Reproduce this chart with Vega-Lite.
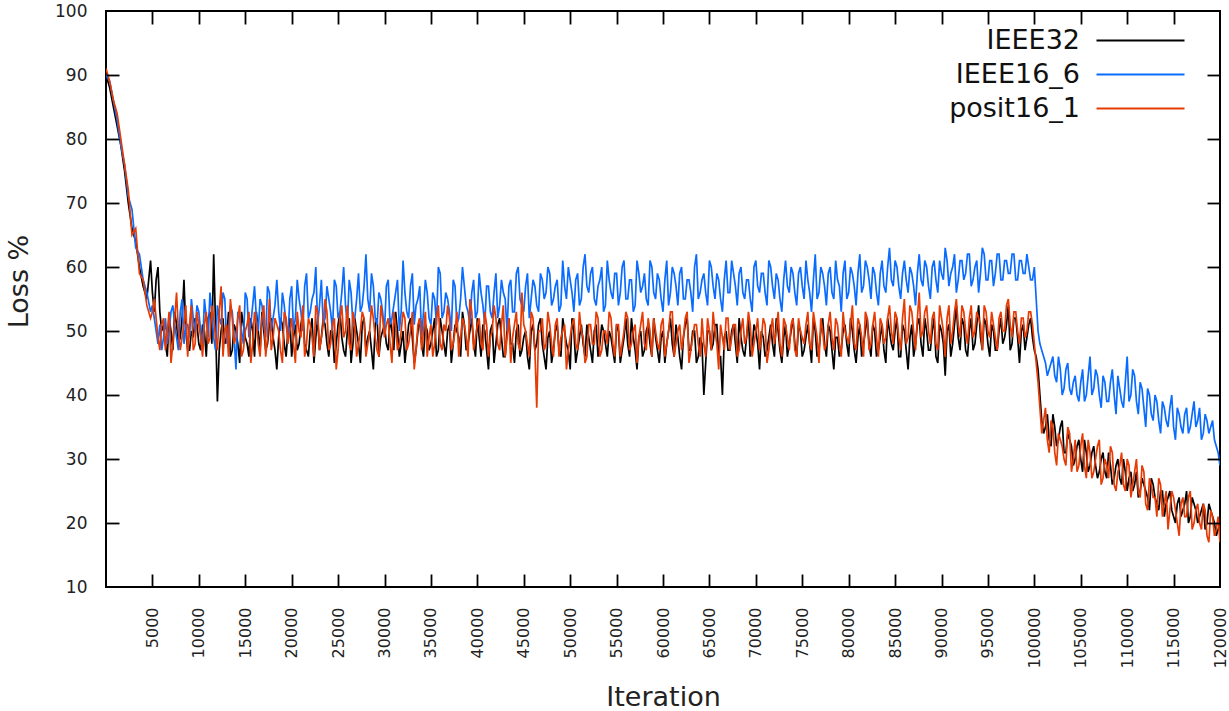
{
  "$schema": "https://vega.github.io/schema/vega-lite/v6.json",
  "width": 1114,
  "height": 576,
  "autosize": {"type": "none"},
  "padding": {"left": 106, "top": 11, "right": 9, "bottom": 124},
  "background": "white",
  "config": {
    "view": {"stroke": "#000000", "strokeWidth": 2},
    "font": "DejaVu Sans",
    "axis": {"grid": false, "domain": false, "tickColor": "#111", "tickWidth": 1.8}
  },
  "layer": [
    {
      "data": {"values": [
    {"it":0,"IEEE32":90,"IEEE16_6":90,"posit16_1":91},
    {"it":400,"IEEE32":88,"IEEE16_6":89,"posit16_1":89},
    {"it":800,"IEEE32":85,"IEEE16_6":86,"posit16_1":86},
    {"it":1200,"IEEE32":82,"IEEE16_6":83,"posit16_1":84},
    {"it":1600,"IEEE32":79,"IEEE16_6":79,"posit16_1":80},
    {"it":2000,"IEEE32":75,"IEEE16_6":76,"posit16_1":76},
    {"it":2400,"IEEE32":70,"IEEE16_6":71,"posit16_1":72},
    {"it":2800,"IEEE32":66,"IEEE16_6":69,"posit16_1":65},
    {"it":3200,"IEEE32":64,"IEEE16_6":63,"posit16_1":66},
    {"it":3600,"IEEE32":60,"IEEE16_6":62,"posit16_1":59},
    {"it":4000,"IEEE32":57,"IEEE16_6":58,"posit16_1":58},
    {"it":4400,"IEEE32":55,"IEEE16_6":56,"posit16_1":54},
    {"it":4800,"IEEE32":61,"IEEE16_6":53,"posit16_1":52},
    {"it":5200,"IEEE32":53,"IEEE16_6":52,"posit16_1":55},
    {"it":5600,"IEEE32":60,"IEEE16_6":48,"posit16_1":49},
    {"it":6000,"IEEE32":50,"IEEE16_6":47,"posit16_1":51},
    {"it":6400,"IEEE32":48,"IEEE16_6":52,"posit16_1":47},
    {"it":6800,"IEEE32":52,"IEEE16_6":50,"posit16_1":53},
    {"it":7200,"IEEE32":47,"IEEE16_6":54,"posit16_1":48},
    {"it":7600,"IEEE32":51,"IEEE16_6":49,"posit16_1":56},
    {"it":8000,"IEEE32":49,"IEEE16_6":53,"posit16_1":47},
    {"it":8400,"IEEE32":58,"IEEE16_6":48,"posit16_1":51},
    {"it":8800,"IEEE32":47,"IEEE16_6":51,"posit16_1":46},
    {"it":9200,"IEEE32":50,"IEEE16_6":55,"posit16_1":54},
    {"it":9600,"IEEE32":52,"IEEE16_6":50,"posit16_1":48},
    {"it":10000,"IEEE32":48,"IEEE16_6":53,"posit16_1":51},
    {"it":10400,"IEEE32":51,"IEEE16_6":47,"posit16_1":46},
    {"it":10800,"IEEE32":46,"IEEE16_6":52,"posit16_1":53},
    {"it":11200,"IEEE32":53,"IEEE16_6":56,"posit16_1":49},
    {"it":11600,"IEEE32":62,"IEEE16_6":49,"posit16_1":52},
    {"it":12000,"IEEE32":39,"IEEE16_6":54,"posit16_1":47},
    {"it":12400,"IEEE32":50,"IEEE16_6":51,"posit16_1":57},
    {"it":12800,"IEEE32":48,"IEEE16_6":55,"posit16_1":50},
    {"it":13200,"IEEE32":53,"IEEE16_6":50,"posit16_1":46},
    {"it":13600,"IEEE32":47,"IEEE16_6":53,"posit16_1":52},
    {"it":14000,"IEEE32":50,"IEEE16_6":44,"posit16_1":49},
    {"it":14400,"IEEE32":45,"IEEE16_6":52,"posit16_1":54},
    {"it":14800,"IEEE32":51,"IEEE16_6":48,"posit16_1":47},
    {"it":15200,"IEEE32":48,"IEEE16_6":55,"posit16_1":51},
    {"it":15600,"IEEE32":52,"IEEE16_6":51,"posit16_1":45},
    {"it":16000,"IEEE32":46,"IEEE16_6":57,"posit16_1":53},
    {"it":16400,"IEEE32":50,"IEEE16_6":50,"posit16_1":48},
    {"it":16800,"IEEE32":53,"IEEE16_6":54,"posit16_1":52},
    {"it":17200,"IEEE32":47,"IEEE16_6":49,"posit16_1":46},
    {"it":17600,"IEEE32":51,"IEEE16_6":56,"posit16_1":55},
    {"it":18000,"IEEE32":49,"IEEE16_6":52,"posit16_1":49},
    {"it":18400,"IEEE32":44,"IEEE16_6":58,"posit16_1":51},
    {"it":18800,"IEEE32":52,"IEEE16_6":50,"posit16_1":47},
    {"it":19200,"IEEE32":48,"IEEE16_6":54,"posit16_1":53},
    {"it":19600,"IEEE32":50,"IEEE16_6":49,"posit16_1":48},
    {"it":20000,"IEEE32":46,"IEEE16_6":57,"posit16_1":52},
    {"it":20400,"IEEE32":51,"IEEE16_6":52,"posit16_1":45},
    {"it":20800,"IEEE32":48,"IEEE16_6":55,"posit16_1":50},
    {"it":21200,"IEEE32":53,"IEEE16_6":50,"posit16_1":54},
    {"it":21600,"IEEE32":47,"IEEE16_6":59,"posit16_1":48},
    {"it":22000,"IEEE32":50,"IEEE16_6":53,"posit16_1":51},
    {"it":22400,"IEEE32":45,"IEEE16_6":56,"posit16_1":46},
    {"it":22800,"IEEE32":52,"IEEE16_6":51,"posit16_1":53},
    {"it":23200,"IEEE32":49,"IEEE16_6":58,"posit16_1":49},
    {"it":23600,"IEEE32":51,"IEEE16_6":52,"posit16_1":55},
    {"it":24000,"IEEE32":46,"IEEE16_6":55,"posit16_1":47},
    {"it":24400,"IEEE32":50,"IEEE16_6":50,"posit16_1":51},
    {"it":24800,"IEEE32":48,"IEEE16_6":57,"posit16_1":44},
    {"it":25200,"IEEE32":53,"IEEE16_6":53,"posit16_1":52},
    {"it":25600,"IEEE32":47,"IEEE16_6":60,"posit16_1":49},
    {"it":26000,"IEEE32":50,"IEEE16_6":51,"posit16_1":54},
    {"it":26400,"IEEE32":45,"IEEE16_6":56,"posit16_1":47},
    {"it":26800,"IEEE32":52,"IEEE16_6":52,"posit16_1":51},
    {"it":27200,"IEEE32":48,"IEEE16_6":59,"posit16_1":48},
    {"it":27600,"IEEE32":51,"IEEE16_6":54,"posit16_1":53},
    {"it":28000,"IEEE32":47,"IEEE16_6":62,"posit16_1":46},
    {"it":28400,"IEEE32":50,"IEEE16_6":53,"posit16_1":50},
    {"it":28800,"IEEE32":44,"IEEE16_6":57,"posit16_1":52},
    {"it":29200,"IEEE32":52,"IEEE16_6":51,"posit16_1":47},
    {"it":29600,"IEEE32":49,"IEEE16_6":55,"posit16_1":54},
    {"it":30000,"IEEE32":51,"IEEE16_6":50,"posit16_1":49},
    {"it":30400,"IEEE32":47,"IEEE16_6":58,"posit16_1":52},
    {"it":30800,"IEEE32":50,"IEEE16_6":52,"posit16_1":45},
    {"it":31200,"IEEE32":53,"IEEE16_6":56,"posit16_1":51},
    {"it":31600,"IEEE32":46,"IEEE16_6":50,"posit16_1":48},
    {"it":32000,"IEEE32":50,"IEEE16_6":61,"posit16_1":53},
    {"it":32400,"IEEE32":48,"IEEE16_6":53,"posit16_1":47},
    {"it":32800,"IEEE32":52,"IEEE16_6":57,"posit16_1":50},
    {"it":33200,"IEEE32":45,"IEEE16_6":51,"posit16_1":44},
    {"it":33600,"IEEE32":50,"IEEE16_6":55,"posit16_1":51},
    {"it":34000,"IEEE32":48,"IEEE16_6":49,"posit16_1":47},
    {"it":34400,"IEEE32":51,"IEEE16_6":58,"posit16_1":53},
    {"it":34800,"IEEE32":47,"IEEE16_6":52,"posit16_1":49},
    {"it":35200,"IEEE32":50,"IEEE16_6":56,"posit16_1":46},
    {"it":35600,"IEEE32":46,"IEEE16_6":51,"posit16_1":52},
    {"it":36000,"IEEE32":52,"IEEE16_6":59,"posit16_1":48},
    {"it":36400,"IEEE32":48,"IEEE16_6":53,"posit16_1":51},
    {"it":36800,"IEEE32":50,"IEEE16_6":55,"posit16_1":54},
    {"it":37200,"IEEE32":45,"IEEE16_6":50,"posit16_1":47},
    {"it":37600,"IEEE32":51,"IEEE16_6":57,"posit16_1":50},
    {"it":38000,"IEEE32":49,"IEEE16_6":52,"posit16_1":46},
    {"it":38400,"IEEE32":53,"IEEE16_6":60,"posit16_1":52},
    {"it":38800,"IEEE32":47,"IEEE16_6":54,"posit16_1":49},
    {"it":39200,"IEEE32":50,"IEEE16_6":51,"posit16_1":55},
    {"it":39600,"IEEE32":48,"IEEE16_6":58,"posit16_1":47},
    {"it":40000,"IEEE32":52,"IEEE16_6":53,"posit16_1":51},
    {"it":40400,"IEEE32":46,"IEEE16_6":56,"posit16_1":48},
    {"it":40800,"IEEE32":50,"IEEE16_6":51,"posit16_1":53},
    {"it":41200,"IEEE32":44,"IEEE16_6":57,"posit16_1":46},
    {"it":41600,"IEEE32":51,"IEEE16_6":52,"posit16_1":50},
    {"it":42000,"IEEE32":48,"IEEE16_6":59,"posit16_1":52},
    {"it":42400,"IEEE32":52,"IEEE16_6":54,"posit16_1":47},
    {"it":42800,"IEEE32":46,"IEEE16_6":56,"posit16_1":54},
    {"it":43200,"IEEE32":50,"IEEE16_6":50,"posit16_1":49},
    {"it":43600,"IEEE32":48,"IEEE16_6":58,"posit16_1":45},
    {"it":44000,"IEEE32":45,"IEEE16_6":53,"posit16_1":51},
    {"it":44400,"IEEE32":51,"IEEE16_6":60,"posit16_1":48},
    {"it":44800,"IEEE32":47,"IEEE16_6":54,"posit16_1":56},
    {"it":45200,"IEEE32":50,"IEEE16_6":57,"posit16_1":50},
    {"it":45600,"IEEE32":44,"IEEE16_6":52,"posit16_1":46},
    {"it":46000,"IEEE32":51,"IEEE16_6":58,"posit16_1":52},
    {"it":46400,"IEEE32":48,"IEEE16_6":54,"posit16_1":38},
    {"it":46800,"IEEE32":52,"IEEE16_6":59,"posit16_1":50},
    {"it":47200,"IEEE32":46,"IEEE16_6":55,"posit16_1":47},
    {"it":47600,"IEEE32":49,"IEEE16_6":60,"posit16_1":53},
    {"it":48000,"IEEE32":45,"IEEE16_6":54,"posit16_1":48},
    {"it":48400,"IEEE32":50,"IEEE16_6":57,"posit16_1":51},
    {"it":48800,"IEEE32":47,"IEEE16_6":53,"posit16_1":46},
    {"it":49200,"IEEE32":52,"IEEE16_6":61,"posit16_1":50},
    {"it":49600,"IEEE32":48,"IEEE16_6":55,"posit16_1":44},
    {"it":50000,"IEEE32":44,"IEEE16_6":58,"posit16_1":49},
    {"it":50400,"IEEE32":50,"IEEE16_6":53,"posit16_1":52},
    {"it":50800,"IEEE32":47,"IEEE16_6":59,"posit16_1":47},
    {"it":51200,"IEEE32":51,"IEEE16_6":55,"posit16_1":50},
    {"it":51600,"IEEE32":46,"IEEE16_6":62,"posit16_1":45},
    {"it":52000,"IEEE32":49,"IEEE16_6":56,"posit16_1":51},
    {"it":52400,"IEEE32":45,"IEEE16_6":60,"posit16_1":48},
    {"it":52800,"IEEE32":51,"IEEE16_6":54,"posit16_1":53},
    {"it":53200,"IEEE32":48,"IEEE16_6":58,"posit16_1":46},
    {"it":53600,"IEEE32":50,"IEEE16_6":53,"posit16_1":50},
    {"it":54000,"IEEE32":46,"IEEE16_6":61,"posit16_1":48},
    {"it":54400,"IEEE32":49,"IEEE16_6":56,"posit16_1":52},
    {"it":54800,"IEEE32":45,"IEEE16_6":59,"posit16_1":46},
    {"it":55200,"IEEE32":50,"IEEE16_6":54,"posit16_1":51},
    {"it":55600,"IEEE32":47,"IEEE16_6":60,"posit16_1":48},
    {"it":56000,"IEEE32":52,"IEEE16_6":55,"posit16_1":53},
    {"it":56400,"IEEE32":46,"IEEE16_6":58,"posit16_1":47},
    {"it":56800,"IEEE32":49,"IEEE16_6":53,"posit16_1":50},
    {"it":57200,"IEEE32":44,"IEEE16_6":61,"posit16_1":45},
    {"it":57600,"IEEE32":50,"IEEE16_6":56,"posit16_1":51},
    {"it":58000,"IEEE32":47,"IEEE16_6":59,"posit16_1":48},
    {"it":58400,"IEEE32":51,"IEEE16_6":54,"posit16_1":52},
    {"it":58800,"IEEE32":46,"IEEE16_6":60,"posit16_1":46},
    {"it":59200,"IEEE32":49,"IEEE16_6":55,"posit16_1":50},
    {"it":59600,"IEEE32":45,"IEEE16_6":58,"posit16_1":47},
    {"it":60000,"IEEE32":50,"IEEE16_6":53,"posit16_1":52},
    {"it":60400,"IEEE32":48,"IEEE16_6":61,"posit16_1":48},
    {"it":60800,"IEEE32":52,"IEEE16_6":56,"posit16_1":53},
    {"it":61200,"IEEE32":46,"IEEE16_6":59,"posit16_1":46},
    {"it":61600,"IEEE32":49,"IEEE16_6":54,"posit16_1":50},
    {"it":62000,"IEEE32":44,"IEEE16_6":60,"posit16_1":47},
    {"it":62400,"IEEE32":51,"IEEE16_6":55,"posit16_1":52},
    {"it":62800,"IEEE32":47,"IEEE16_6":58,"posit16_1":45},
    {"it":63200,"IEEE32":50,"IEEE16_6":53,"posit16_1":49},
    {"it":63600,"IEEE32":45,"IEEE16_6":62,"posit16_1":51},
    {"it":64000,"IEEE32":49,"IEEE16_6":56,"posit16_1":46},
    {"it":64400,"IEEE32":40,"IEEE16_6":59,"posit16_1":48},
    {"it":64800,"IEEE32":50,"IEEE16_6":54,"posit16_1":52},
    {"it":65200,"IEEE32":47,"IEEE16_6":60,"posit16_1":47},
    {"it":65600,"IEEE32":51,"IEEE16_6":55,"posit16_1":50},
    {"it":66000,"IEEE32":46,"IEEE16_6":58,"posit16_1":44},
    {"it":66400,"IEEE32":40,"IEEE16_6":53,"posit16_1":49},
    {"it":66800,"IEEE32":50,"IEEE16_6":61,"posit16_1":52},
    {"it":67200,"IEEE32":47,"IEEE16_6":56,"posit16_1":47},
    {"it":67600,"IEEE32":51,"IEEE16_6":59,"posit16_1":51},
    {"it":68000,"IEEE32":45,"IEEE16_6":54,"posit16_1":46},
    {"it":68400,"IEEE32":49,"IEEE16_6":60,"posit16_1":50},
    {"it":68800,"IEEE32":46,"IEEE16_6":55,"posit16_1":48},
    {"it":69200,"IEEE32":52,"IEEE16_6":58,"posit16_1":53},
    {"it":69600,"IEEE32":47,"IEEE16_6":53,"posit16_1":46},
    {"it":70000,"IEEE32":50,"IEEE16_6":61,"posit16_1":50},
    {"it":70400,"IEEE32":44,"IEEE16_6":56,"posit16_1":47},
    {"it":70800,"IEEE32":49,"IEEE16_6":59,"posit16_1":52},
    {"it":71200,"IEEE32":47,"IEEE16_6":54,"posit16_1":45},
    {"it":71600,"IEEE32":51,"IEEE16_6":60,"posit16_1":50},
    {"it":72000,"IEEE32":46,"IEEE16_6":55,"posit16_1":48},
    {"it":72400,"IEEE32":50,"IEEE16_6":58,"posit16_1":53},
    {"it":72800,"IEEE32":45,"IEEE16_6":53,"posit16_1":46},
    {"it":73200,"IEEE32":51,"IEEE16_6":61,"posit16_1":51},
    {"it":73600,"IEEE32":48,"IEEE16_6":56,"posit16_1":47},
    {"it":74000,"IEEE32":52,"IEEE16_6":59,"posit16_1":52},
    {"it":74400,"IEEE32":46,"IEEE16_6":54,"posit16_1":46},
    {"it":74800,"IEEE32":50,"IEEE16_6":60,"posit16_1":50},
    {"it":75200,"IEEE32":47,"IEEE16_6":55,"posit16_1":48},
    {"it":75600,"IEEE32":51,"IEEE16_6":58,"posit16_1":53},
    {"it":76000,"IEEE32":45,"IEEE16_6":53,"posit16_1":47},
    {"it":76400,"IEEE32":50,"IEEE16_6":62,"posit16_1":51},
    {"it":76800,"IEEE32":47,"IEEE16_6":56,"posit16_1":45},
    {"it":77200,"IEEE32":52,"IEEE16_6":59,"posit16_1":50},
    {"it":77600,"IEEE32":46,"IEEE16_6":54,"posit16_1":48},
    {"it":78000,"IEEE32":50,"IEEE16_6":60,"posit16_1":53},
    {"it":78400,"IEEE32":44,"IEEE16_6":55,"posit16_1":47},
    {"it":78800,"IEEE32":49,"IEEE16_6":58,"posit16_1":51},
    {"it":79200,"IEEE32":47,"IEEE16_6":53,"posit16_1":46},
    {"it":79600,"IEEE32":51,"IEEE16_6":61,"posit16_1":50},
    {"it":80000,"IEEE32":46,"IEEE16_6":56,"posit16_1":48},
    {"it":80400,"IEEE32":50,"IEEE16_6":59,"posit16_1":54},
    {"it":80800,"IEEE32":45,"IEEE16_6":54,"posit16_1":47},
    {"it":81200,"IEEE32":51,"IEEE16_6":62,"posit16_1":51},
    {"it":81600,"IEEE32":48,"IEEE16_6":57,"posit16_1":46},
    {"it":82000,"IEEE32":52,"IEEE16_6":60,"posit16_1":52},
    {"it":82400,"IEEE32":46,"IEEE16_6":55,"posit16_1":48},
    {"it":82800,"IEEE32":50,"IEEE16_6":59,"posit16_1":53},
    {"it":83200,"IEEE32":47,"IEEE16_6":54,"posit16_1":46},
    {"it":83600,"IEEE32":51,"IEEE16_6":61,"posit16_1":51},
    {"it":84000,"IEEE32":45,"IEEE16_6":56,"posit16_1":49},
    {"it":84400,"IEEE32":50,"IEEE16_6":63,"posit16_1":54},
    {"it":84800,"IEEE32":47,"IEEE16_6":57,"posit16_1":48},
    {"it":85200,"IEEE32":52,"IEEE16_6":60,"posit16_1":52},
    {"it":85600,"IEEE32":46,"IEEE16_6":55,"posit16_1":47},
    {"it":86000,"IEEE32":50,"IEEE16_6":61,"posit16_1":55},
    {"it":86400,"IEEE32":44,"IEEE16_6":56,"posit16_1":49},
    {"it":86800,"IEEE32":51,"IEEE16_6":59,"posit16_1":53},
    {"it":87200,"IEEE32":48,"IEEE16_6":54,"posit16_1":47},
    {"it":87600,"IEEE32":52,"IEEE16_6":62,"posit16_1":56},
    {"it":88000,"IEEE32":46,"IEEE16_6":57,"posit16_1":50},
    {"it":88400,"IEEE32":50,"IEEE16_6":60,"posit16_1":54},
    {"it":88800,"IEEE32":47,"IEEE16_6":55,"posit16_1":48},
    {"it":89200,"IEEE32":52,"IEEE16_6":61,"posit16_1":53},
    {"it":89600,"IEEE32":45,"IEEE16_6":56,"posit16_1":47},
    {"it":90000,"IEEE32":50,"IEEE16_6":59,"posit16_1":52},
    {"it":90400,"IEEE32":43,"IEEE16_6":63,"posit16_1":46},
    {"it":90800,"IEEE32":51,"IEEE16_6":57,"posit16_1":54},
    {"it":91200,"IEEE32":48,"IEEE16_6":60,"posit16_1":50},
    {"it":91600,"IEEE32":54,"IEEE16_6":56,"posit16_1":55},
    {"it":92000,"IEEE32":47,"IEEE16_6":61,"posit16_1":49},
    {"it":92400,"IEEE32":51,"IEEE16_6":58,"posit16_1":53},
    {"it":92800,"IEEE32":46,"IEEE16_6":62,"posit16_1":48},
    {"it":93200,"IEEE32":52,"IEEE16_6":57,"posit16_1":54},
    {"it":93600,"IEEE32":48,"IEEE16_6":60,"posit16_1":50},
    {"it":94000,"IEEE32":54,"IEEE16_6":56,"posit16_1":52},
    {"it":94400,"IEEE32":47,"IEEE16_6":63,"posit16_1":47},
    {"it":94800,"IEEE32":51,"IEEE16_6":58,"posit16_1":53},
    {"it":95200,"IEEE32":46,"IEEE16_6":61,"posit16_1":49},
    {"it":95600,"IEEE32":50,"IEEE16_6":57,"posit16_1":51},
    {"it":96000,"IEEE32":47,"IEEE16_6":62,"posit16_1":47},
    {"it":96400,"IEEE32":52,"IEEE16_6":58,"posit16_1":53},
    {"it":96800,"IEEE32":49,"IEEE16_6":61,"posit16_1":50},
    {"it":97200,"IEEE32":54,"IEEE16_6":59,"posit16_1":55},
    {"it":97600,"IEEE32":48,"IEEE16_6":62,"posit16_1":49},
    {"it":98000,"IEEE32":52,"IEEE16_6":58,"posit16_1":53},
    {"it":98400,"IEEE32":45,"IEEE16_6":61,"posit16_1":48},
    {"it":98800,"IEEE32":51,"IEEE16_6":59,"posit16_1":52},
    {"it":99200,"IEEE32":49,"IEEE16_6":62,"posit16_1":50},
    {"it":99600,"IEEE32":52,"IEEE16_6":58,"posit16_1":53},
    {"it":100000,"IEEE32":47,"IEEE16_6":60,"posit16_1":48},
    {"it":100400,"IEEE32":44,"IEEE16_6":50,"posit16_1":42},
    {"it":100800,"IEEE32":36,"IEEE16_6":47,"posit16_1":34},
    {"it":101200,"IEEE32":35,"IEEE16_6":45,"posit16_1":38},
    {"it":101600,"IEEE32":33,"IEEE16_6":44,"posit16_1":31},
    {"it":102000,"IEEE32":37,"IEEE16_6":46,"posit16_1":35},
    {"it":102400,"IEEE32":32,"IEEE16_6":42,"posit16_1":29},
    {"it":102800,"IEEE32":35,"IEEE16_6":44,"posit16_1":33},
    {"it":103200,"IEEE32":31,"IEEE16_6":41,"posit16_1":30},
    {"it":103600,"IEEE32":34,"IEEE16_6":45,"posit16_1":35},
    {"it":104000,"IEEE32":32,"IEEE16_6":40,"posit16_1":28},
    {"it":104400,"IEEE32":30,"IEEE16_6":43,"posit16_1":33},
    {"it":104800,"IEEE32":33,"IEEE16_6":39,"posit16_1":29},
    {"it":105200,"IEEE32":28,"IEEE16_6":44,"posit16_1":34},
    {"it":105600,"IEEE32":31,"IEEE16_6":40,"posit16_1":27},
    {"it":106000,"IEEE32":29,"IEEE16_6":46,"posit16_1":31},
    {"it":106400,"IEEE32":32,"IEEE16_6":41,"posit16_1":28},
    {"it":106800,"IEEE32":27,"IEEE16_6":43,"posit16_1":32},
    {"it":107200,"IEEE32":30,"IEEE16_6":38,"posit16_1":26},
    {"it":107600,"IEEE32":28,"IEEE16_6":42,"posit16_1":30},
    {"it":108000,"IEEE32":31,"IEEE16_6":39,"posit16_1":27},
    {"it":108400,"IEEE32":26,"IEEE16_6":44,"posit16_1":31},
    {"it":108800,"IEEE32":29,"IEEE16_6":37,"posit16_1":25},
    {"it":109200,"IEEE32":27,"IEEE16_6":41,"posit16_1":29},
    {"it":109600,"IEEE32":30,"IEEE16_6":38,"posit16_1":26},
    {"it":110000,"IEEE32":25,"IEEE16_6":46,"posit16_1":30},
    {"it":110400,"IEEE32":28,"IEEE16_6":40,"posit16_1":24},
    {"it":110800,"IEEE32":26,"IEEE16_6":43,"posit16_1":28},
    {"it":111200,"IEEE32":24,"IEEE16_6":37,"posit16_1":25},
    {"it":111600,"IEEE32":27,"IEEE16_6":41,"posit16_1":29},
    {"it":112000,"IEEE32":25,"IEEE16_6":35,"posit16_1":23},
    {"it":112400,"IEEE32":22,"IEEE16_6":40,"posit16_1":27},
    {"it":112800,"IEEE32":26,"IEEE16_6":36,"posit16_1":24},
    {"it":113200,"IEEE32":23,"IEEE16_6":39,"posit16_1":21},
    {"it":113600,"IEEE32":25,"IEEE16_6":34,"posit16_1":26},
    {"it":114000,"IEEE32":21,"IEEE16_6":38,"posit16_1":23},
    {"it":114400,"IEEE32":24,"IEEE16_6":35,"posit16_1":19},
    {"it":114800,"IEEE32":22,"IEEE16_6":40,"posit16_1":25},
    {"it":115200,"IEEE32":20,"IEEE16_6":33,"posit16_1":22},
    {"it":115600,"IEEE32":24,"IEEE16_6":37,"posit16_1":18},
    {"it":116000,"IEEE32":22,"IEEE16_6":34,"posit16_1":24},
    {"it":116400,"IEEE32":25,"IEEE16_6":38,"posit16_1":21},
    {"it":116800,"IEEE32":21,"IEEE16_6":35,"posit16_1":25},
    {"it":117200,"IEEE32":23,"IEEE16_6":39,"posit16_1":20},
    {"it":117600,"IEEE32":20,"IEEE16_6":36,"posit16_1":23},
    {"it":118000,"IEEE32":22,"IEEE16_6":33,"posit16_1":19},
    {"it":118400,"IEEE32":19,"IEEE16_6":37,"posit16_1":22},
    {"it":118800,"IEEE32":23,"IEEE16_6":34,"posit16_1":17},
    {"it":119200,"IEEE32":21,"IEEE16_6":36,"posit16_1":21},
    {"it":119600,"IEEE32":18,"IEEE16_6":32,"posit16_1":19},
    {"it":120000,"IEEE32":20,"IEEE16_6":29,"posit16_1":17},
    {"it":5000,"IEEE32":56,"IEEE16_6":54,"posit16_1":53},
    {"it":5400,"IEEE32":58,"IEEE16_6":50,"posit16_1":52},
    {"it":5800,"IEEE32":53,"IEEE16_6":51,"posit16_1":47},
    {"it":6200,"IEEE32":51,"IEEE16_6":49,"posit16_1":52},
    {"it":6600,"IEEE32":46,"IEEE16_6":48,"posit16_1":50},
    {"it":7000,"IEEE32":50,"IEEE16_6":53,"posit16_1":45},
    {"it":7400,"IEEE32":53,"IEEE16_6":51,"posit16_1":52},
    {"it":7800,"IEEE32":48,"IEEE16_6":47,"posit16_1":50},
    {"it":8200,"IEEE32":52,"IEEE16_6":55,"posit16_1":49},
    {"it":8600,"IEEE32":50,"IEEE16_6":51,"posit16_1":54},
    {"it":9000,"IEEE32":47,"IEEE16_6":49,"posit16_1":51},
    {"it":9400,"IEEE32":49,"IEEE16_6":52,"posit16_1":47},
    {"it":9800,"IEEE32":51,"IEEE16_6":54,"posit16_1":53},
    {"it":10200,"IEEE32":47,"IEEE16_6":50,"posit16_1":49},
    {"it":10600,"IEEE32":50,"IEEE16_6":55,"posit16_1":51},
    {"it":11000,"IEEE32":52,"IEEE16_6":49,"posit16_1":48},
    {"it":11400,"IEEE32":48,"IEEE16_6":53,"posit16_1":54},
    {"it":11800,"IEEE32":51,"IEEE16_6":47,"posit16_1":49},
    {"it":12200,"IEEE32":47,"IEEE16_6":52,"posit16_1":53},
    {"it":12600,"IEEE32":52,"IEEE16_6":56,"posit16_1":46},
    {"it":13000,"IEEE32":49,"IEEE16_6":48,"posit16_1":51},
    {"it":13400,"IEEE32":46,"IEEE16_6":54,"posit16_1":55},
    {"it":13800,"IEEE32":51,"IEEE16_6":49,"posit16_1":48},
    {"it":14200,"IEEE32":48,"IEEE16_6":53,"posit16_1":52},
    {"it":14600,"IEEE32":53,"IEEE16_6":50,"posit16_1":46},
    {"it":15000,"IEEE32":49,"IEEE16_6":56,"posit16_1":50},
    {"it":15400,"IEEE32":46,"IEEE16_6":49,"posit16_1":53},
    {"it":15800,"IEEE32":50,"IEEE16_6":54,"posit16_1":48},
    {"it":16200,"IEEE32":53,"IEEE16_6":52,"posit16_1":51},
    {"it":16600,"IEEE32":47,"IEEE16_6":55,"posit16_1":46},
    {"it":17000,"IEEE32":50,"IEEE16_6":51,"posit16_1":54},
    {"it":17400,"IEEE32":48,"IEEE16_6":57,"posit16_1":49},
    {"it":17800,"IEEE32":52,"IEEE16_6":50,"posit16_1":47},
    {"it":18200,"IEEE32":47,"IEEE16_6":54,"posit16_1":52},
    {"it":18600,"IEEE32":49,"IEEE16_6":53,"posit16_1":50},
    {"it":19000,"IEEE32":51,"IEEE16_6":56,"posit16_1":45},
    {"it":19400,"IEEE32":46,"IEEE16_6":51,"posit16_1":52},
    {"it":19800,"IEEE32":52,"IEEE16_6":55,"posit16_1":50},
    {"it":20200,"IEEE32":49,"IEEE16_6":50,"posit16_1":48},
    {"it":20600,"IEEE32":47,"IEEE16_6":58,"posit16_1":53},
    {"it":21000,"IEEE32":51,"IEEE16_6":53,"posit16_1":49},
    {"it":21400,"IEEE32":48,"IEEE16_6":57,"posit16_1":46},
    {"it":21800,"IEEE32":46,"IEEE16_6":52,"posit16_1":52},
    {"it":22200,"IEEE32":52,"IEEE16_6":55,"posit16_1":49},
    {"it":22600,"IEEE32":49,"IEEE16_6":60,"posit16_1":54},
    {"it":23000,"IEEE32":47,"IEEE16_6":54,"posit16_1":47},
    {"it":23400,"IEEE32":52,"IEEE16_6":51,"posit16_1":51},
    {"it":23800,"IEEE32":48,"IEEE16_6":57,"posit16_1":53},
    {"it":24200,"IEEE32":50,"IEEE16_6":53,"posit16_1":48},
    {"it":24600,"IEEE32":45,"IEEE16_6":58,"posit16_1":52},
    {"it":25000,"IEEE32":51,"IEEE16_6":52,"posit16_1":47},
    {"it":25400,"IEEE32":49,"IEEE16_6":56,"posit16_1":54},
    {"it":25800,"IEEE32":46,"IEEE16_6":54,"posit16_1":50},
    {"it":26200,"IEEE32":52,"IEEE16_6":58,"posit16_1":48},
    {"it":26600,"IEEE32":48,"IEEE16_6":51,"posit16_1":53},
    {"it":27000,"IEEE32":50,"IEEE16_6":55,"posit16_1":46},
    {"it":27400,"IEEE32":45,"IEEE16_6":53,"posit16_1":50},
    {"it":27800,"IEEE32":52,"IEEE16_6":57,"posit16_1":52},
    {"it":28200,"IEEE32":49,"IEEE16_6":55,"posit16_1":48},
    {"it":28600,"IEEE32":47,"IEEE16_6":59,"posit16_1":54},
    {"it":29000,"IEEE32":51,"IEEE16_6":52,"posit16_1":49},
    {"it":29400,"IEEE32":46,"IEEE16_6":56,"posit16_1":46},
    {"it":29800,"IEEE32":50,"IEEE16_6":53,"posit16_1":52},
    {"it":30200,"IEEE32":48,"IEEE16_6":57,"posit16_1":51},
    {"it":30600,"IEEE32":52,"IEEE16_6":51,"posit16_1":48},
    {"it":31000,"IEEE32":47,"IEEE16_6":54,"posit16_1":53},
    {"it":31400,"IEEE32":50,"IEEE16_6":58,"posit16_1":47},
    {"it":31800,"IEEE32":48,"IEEE16_6":53,"posit16_1":50},
    {"it":32200,"IEEE32":45,"IEEE16_6":56,"posit16_1":52},
    {"it":32600,"IEEE32":51,"IEEE16_6":52,"posit16_1":48},
    {"it":33000,"IEEE32":49,"IEEE16_6":59,"posit16_1":53},
    {"it":33400,"IEEE32":47,"IEEE16_6":54,"posit16_1":47},
    {"it":33800,"IEEE32":52,"IEEE16_6":57,"posit16_1":52},
    {"it":34200,"IEEE32":46,"IEEE16_6":53,"posit16_1":50},
    {"it":34600,"IEEE32":50,"IEEE16_6":56,"posit16_1":46},
    {"it":35000,"IEEE32":48,"IEEE16_6":51,"posit16_1":51},
    {"it":35400,"IEEE32":52,"IEEE16_6":55,"posit16_1":48},
    {"it":35800,"IEEE32":47,"IEEE16_6":60,"posit16_1":54},
    {"it":36200,"IEEE32":50,"IEEE16_6":52,"posit16_1":47},
    {"it":36600,"IEEE32":46,"IEEE16_6":56,"posit16_1":50},
    {"it":37000,"IEEE32":51,"IEEE16_6":53,"posit16_1":52},
    {"it":37400,"IEEE32":48,"IEEE16_6":58,"posit16_1":48},
    {"it":37800,"IEEE32":50,"IEEE16_6":51,"posit16_1":53},
    {"it":38200,"IEEE32":46,"IEEE16_6":55,"posit16_1":49},
    {"it":38600,"IEEE32":51,"IEEE16_6":57,"posit16_1":51},
    {"it":39000,"IEEE32":48,"IEEE16_6":53,"posit16_1":46},
    {"it":39400,"IEEE32":52,"IEEE16_6":56,"posit16_1":53},
    {"it":39800,"IEEE32":46,"IEEE16_6":52,"posit16_1":49},
    {"it":40200,"IEEE32":49,"IEEE16_6":59,"posit16_1":52},
    {"it":40600,"IEEE32":51,"IEEE16_6":54,"posit16_1":47},
    {"it":41000,"IEEE32":47,"IEEE16_6":57,"posit16_1":51},
    {"it":41400,"IEEE32":50,"IEEE16_6":53,"posit16_1":49},
    {"it":41800,"IEEE32":45,"IEEE16_6":56,"posit16_1":54},
    {"it":42200,"IEEE32":51,"IEEE16_6":52,"posit16_1":48},
    {"it":42600,"IEEE32":49,"IEEE16_6":58,"posit16_1":51},
    {"it":43000,"IEEE32":46,"IEEE16_6":55,"posit16_1":46},
    {"it":43400,"IEEE32":52,"IEEE16_6":57,"posit16_1":52},
    {"it":43800,"IEEE32":48,"IEEE16_6":53,"posit16_1":49},
    {"it":44200,"IEEE32":50,"IEEE16_6":59,"posit16_1":53},
    {"it":44600,"IEEE32":46,"IEEE16_6":55,"posit16_1":47},
    {"it":45000,"IEEE32":49,"IEEE16_6":53,"posit16_1":51},
    {"it":45400,"IEEE32":46,"IEEE16_6":59,"posit16_1":48},
    {"it":45800,"IEEE32":50,"IEEE16_6":55,"posit16_1":53},
    {"it":46200,"IEEE32":47,"IEEE16_6":57,"posit16_1":47},
    {"it":46600,"IEEE32":51,"IEEE16_6":53,"posit16_1":50},
    {"it":47000,"IEEE32":48,"IEEE16_6":58,"posit16_1":52},
    {"it":47400,"IEEE32":44,"IEEE16_6":56,"posit16_1":48},
    {"it":47800,"IEEE32":50,"IEEE16_6":59,"posit16_1":51},
    {"it":48200,"IEEE32":47,"IEEE16_6":55,"posit16_1":46},
    {"it":48600,"IEEE32":51,"IEEE16_6":58,"posit16_1":52},
    {"it":49000,"IEEE32":46,"IEEE16_6":54,"posit16_1":49},
    {"it":49400,"IEEE32":50,"IEEE16_6":57,"posit16_1":51},
    {"it":49800,"IEEE32":47,"IEEE16_6":60,"posit16_1":47},
    {"it":50200,"IEEE32":52,"IEEE16_6":56,"posit16_1":51},
    {"it":50600,"IEEE32":45,"IEEE16_6":58,"posit16_1":48},
    {"it":51000,"IEEE32":49,"IEEE16_6":54,"posit16_1":53},
    {"it":51400,"IEEE32":48,"IEEE16_6":60,"posit16_1":49},
    {"it":51800,"IEEE32":51,"IEEE16_6":57,"posit16_1":46},
    {"it":52200,"IEEE32":47,"IEEE16_6":59,"posit16_1":51},
    {"it":52600,"IEEE32":50,"IEEE16_6":55,"posit16_1":48},
    {"it":53000,"IEEE32":46,"IEEE16_6":57,"posit16_1":52},
    {"it":53400,"IEEE32":51,"IEEE16_6":60,"posit16_1":47},
    {"it":53800,"IEEE32":48,"IEEE16_6":54,"posit16_1":50},
    {"it":54200,"IEEE32":50,"IEEE16_6":58,"posit16_1":53},
    {"it":54600,"IEEE32":47,"IEEE16_6":55,"posit16_1":48},
    {"it":55000,"IEEE32":51,"IEEE16_6":59,"posit16_1":51},
    {"it":55400,"IEEE32":45,"IEEE16_6":56,"posit16_1":46},
    {"it":55800,"IEEE32":49,"IEEE16_6":61,"posit16_1":50},
    {"it":56200,"IEEE32":48,"IEEE16_6":55,"posit16_1":52},
    {"it":56600,"IEEE32":52,"IEEE16_6":58,"posit16_1":48},
    {"it":57000,"IEEE32":47,"IEEE16_6":54,"posit16_1":51},
    {"it":57400,"IEEE32":49,"IEEE16_6":59,"posit16_1":49},
    {"it":57800,"IEEE32":46,"IEEE16_6":57,"posit16_1":53},
    {"it":58200,"IEEE32":50,"IEEE16_6":55,"posit16_1":47},
    {"it":58600,"IEEE32":48,"IEEE16_6":61,"posit16_1":50},
    {"it":59000,"IEEE32":52,"IEEE16_6":56,"posit16_1":52},
    {"it":59400,"IEEE32":47,"IEEE16_6":59,"posit16_1":48},
    {"it":59800,"IEEE32":49,"IEEE16_6":55,"posit16_1":51},
    {"it":60200,"IEEE32":45,"IEEE16_6":58,"posit16_1":46},
    {"it":60600,"IEEE32":50,"IEEE16_6":54,"posit16_1":50},
    {"it":61000,"IEEE32":48,"IEEE16_6":60,"posit16_1":53},
    {"it":61400,"IEEE32":51,"IEEE16_6":57,"posit16_1":48},
    {"it":61800,"IEEE32":46,"IEEE16_6":59,"posit16_1":51},
    {"it":62200,"IEEE32":49,"IEEE16_6":55,"posit16_1":49},
    {"it":62600,"IEEE32":52,"IEEE16_6":58,"posit16_1":53},
    {"it":63000,"IEEE32":47,"IEEE16_6":56,"posit16_1":47},
    {"it":63400,"IEEE32":50,"IEEE16_6":60,"posit16_1":51},
    {"it":63800,"IEEE32":46,"IEEE16_6":55,"posit16_1":48},
    {"it":64200,"IEEE32":48,"IEEE16_6":58,"posit16_1":52},
    {"it":64600,"IEEE32":45,"IEEE16_6":56,"posit16_1":46},
    {"it":65000,"IEEE32":50,"IEEE16_6":61,"posit16_1":50},
    {"it":65400,"IEEE32":48,"IEEE16_6":57,"posit16_1":53},
    {"it":65800,"IEEE32":51,"IEEE16_6":59,"posit16_1":48},
    {"it":66200,"IEEE32":46,"IEEE16_6":55,"posit16_1":51},
    {"it":66600,"IEEE32":49,"IEEE16_6":58,"posit16_1":47},
    {"it":67000,"IEEE32":47,"IEEE16_6":56,"posit16_1":52},
    {"it":67400,"IEEE32":50,"IEEE16_6":61,"posit16_1":49},
    {"it":67800,"IEEE32":48,"IEEE16_6":57,"posit16_1":51},
    {"it":68200,"IEEE32":52,"IEEE16_6":59,"posit16_1":47},
    {"it":68600,"IEEE32":47,"IEEE16_6":56,"posit16_1":52},
    {"it":69000,"IEEE32":49,"IEEE16_6":58,"posit16_1":49},
    {"it":69400,"IEEE32":46,"IEEE16_6":55,"posit16_1":51},
    {"it":69800,"IEEE32":51,"IEEE16_6":60,"posit16_1":48},
    {"it":70200,"IEEE32":48,"IEEE16_6":57,"posit16_1":52},
    {"it":70600,"IEEE32":50,"IEEE16_6":59,"posit16_1":49},
    {"it":71000,"IEEE32":46,"IEEE16_6":56,"posit16_1":51},
    {"it":71400,"IEEE32":49,"IEEE16_6":61,"posit16_1":47},
    {"it":71800,"IEEE32":48,"IEEE16_6":57,"posit16_1":52},
    {"it":72200,"IEEE32":52,"IEEE16_6":59,"posit16_1":50},
    {"it":72600,"IEEE32":47,"IEEE16_6":55,"posit16_1":48},
    {"it":73000,"IEEE32":49,"IEEE16_6":58,"posit16_1":52},
    {"it":73400,"IEEE32":46,"IEEE16_6":57,"posit16_1":49},
    {"it":73800,"IEEE32":50,"IEEE16_6":60,"posit16_1":51},
    {"it":74200,"IEEE32":48,"IEEE16_6":56,"posit16_1":47},
    {"it":74600,"IEEE32":51,"IEEE16_6":59,"posit16_1":52},
    {"it":75000,"IEEE32":46,"IEEE16_6":57,"posit16_1":49},
    {"it":75400,"IEEE32":49,"IEEE16_6":61,"posit16_1":51},
    {"it":75800,"IEEE32":48,"IEEE16_6":56,"posit16_1":48},
    {"it":76200,"IEEE32":52,"IEEE16_6":58,"posit16_1":53},
    {"it":76600,"IEEE32":46,"IEEE16_6":55,"posit16_1":49},
    {"it":77000,"IEEE32":50,"IEEE16_6":60,"posit16_1":52},
    {"it":77400,"IEEE32":48,"IEEE16_6":57,"posit16_1":47},
    {"it":77800,"IEEE32":51,"IEEE16_6":59,"posit16_1":51},
    {"it":78200,"IEEE32":47,"IEEE16_6":56,"posit16_1":49},
    {"it":78600,"IEEE32":49,"IEEE16_6":61,"posit16_1":52},
    {"it":79000,"IEEE32":46,"IEEE16_6":57,"posit16_1":48},
    {"it":79400,"IEEE32":50,"IEEE16_6":59,"posit16_1":53},
    {"it":79800,"IEEE32":48,"IEEE16_6":55,"posit16_1":49},
    {"it":80200,"IEEE32":52,"IEEE16_6":60,"posit16_1":51},
    {"it":80600,"IEEE32":47,"IEEE16_6":57,"posit16_1":48},
    {"it":81000,"IEEE32":49,"IEEE16_6":59,"posit16_1":52},
    {"it":81400,"IEEE32":46,"IEEE16_6":56,"posit16_1":49},
    {"it":81800,"IEEE32":50,"IEEE16_6":61,"posit16_1":53},
    {"it":82200,"IEEE32":48,"IEEE16_6":58,"posit16_1":47},
    {"it":82600,"IEEE32":51,"IEEE16_6":60,"posit16_1":51},
    {"it":83000,"IEEE32":46,"IEEE16_6":56,"posit16_1":49},
    {"it":83400,"IEEE32":49,"IEEE16_6":59,"posit16_1":52},
    {"it":83800,"IEEE32":47,"IEEE16_6":57,"posit16_1":48},
    {"it":84200,"IEEE32":52,"IEEE16_6":60,"posit16_1":52},
    {"it":84600,"IEEE32":48,"IEEE16_6":58,"posit16_1":50},
    {"it":85000,"IEEE32":50,"IEEE16_6":61,"posit16_1":53},
    {"it":85400,"IEEE32":46,"IEEE16_6":57,"posit16_1":49},
    {"it":85800,"IEEE32":51,"IEEE16_6":59,"posit16_1":52},
    {"it":86200,"IEEE32":47,"IEEE16_6":58,"posit16_1":48},
    {"it":86600,"IEEE32":49,"IEEE16_6":60,"posit16_1":54},
    {"it":87000,"IEEE32":46,"IEEE16_6":57,"posit16_1":50},
    {"it":87400,"IEEE32":51,"IEEE16_6":59,"posit16_1":52},
    {"it":87800,"IEEE32":48,"IEEE16_6":58,"posit16_1":49},
    {"it":88200,"IEEE32":52,"IEEE16_6":61,"posit16_1":53},
    {"it":88600,"IEEE32":47,"IEEE16_6":57,"posit16_1":50},
    {"it":89000,"IEEE32":50,"IEEE16_6":60,"posit16_1":52},
    {"it":89400,"IEEE32":46,"IEEE16_6":58,"posit16_1":48},
    {"it":89800,"IEEE32":51,"IEEE16_6":61,"posit16_1":54},
    {"it":90200,"IEEE32":48,"IEEE16_6":58,"posit16_1":50},
    {"it":90600,"IEEE32":50,"IEEE16_6":61,"posit16_1":52},
    {"it":91000,"IEEE32":46,"IEEE16_6":59,"posit16_1":48},
    {"it":91400,"IEEE32":51,"IEEE16_6":62,"posit16_1":53},
    {"it":91800,"IEEE32":49,"IEEE16_6":58,"posit16_1":51},
    {"it":92200,"IEEE32":52,"IEEE16_6":61,"posit16_1":54},
    {"it":92600,"IEEE32":47,"IEEE16_6":59,"posit16_1":50},
    {"it":93000,"IEEE32":50,"IEEE16_6":62,"posit16_1":52},
    {"it":93400,"IEEE32":47,"IEEE16_6":58,"posit16_1":49},
    {"it":93800,"IEEE32":51,"IEEE16_6":61,"posit16_1":53},
    {"it":94200,"IEEE32":49,"IEEE16_6":59,"posit16_1":51},
    {"it":94600,"IEEE32":52,"IEEE16_6":62,"posit16_1":54},
    {"it":95000,"IEEE32":48,"IEEE16_6":58,"posit16_1":50},
    {"it":95400,"IEEE32":51,"IEEE16_6":61,"posit16_1":53},
    {"it":95800,"IEEE32":47,"IEEE16_6":59,"posit16_1":49},
    {"it":96200,"IEEE32":50,"IEEE16_6":62,"posit16_1":52},
    {"it":96600,"IEEE32":48,"IEEE16_6":58,"posit16_1":50},
    {"it":97000,"IEEE32":51,"IEEE16_6":61,"posit16_1":54},
    {"it":97400,"IEEE32":47,"IEEE16_6":59,"posit16_1":51},
    {"it":97800,"IEEE32":52,"IEEE16_6":62,"posit16_1":53},
    {"it":98200,"IEEE32":49,"IEEE16_6":58,"posit16_1":50},
    {"it":98600,"IEEE32":50,"IEEE16_6":61,"posit16_1":52},
    {"it":99000,"IEEE32":47,"IEEE16_6":59,"posit16_1":49},
    {"it":99400,"IEEE32":51,"IEEE16_6":60,"posit16_1":53},
    {"it":99800,"IEEE32":49,"IEEE16_6":58,"posit16_1":51},
    {"it":100200,"IEEE32":46,"IEEE16_6":55,"posit16_1":45},
    {"it":100600,"IEEE32":40,"IEEE16_6":48,"posit16_1":38},
    {"it":101000,"IEEE32":34,"IEEE16_6":46,"posit16_1":36},
    {"it":101400,"IEEE32":37,"IEEE16_6":43,"posit16_1":33},
    {"it":101800,"IEEE32":32,"IEEE16_6":45,"posit16_1":36},
    {"it":102200,"IEEE32":35,"IEEE16_6":43,"posit16_1":31},
    {"it":102600,"IEEE32":33,"IEEE16_6":46,"posit16_1":34},
    {"it":103000,"IEEE32":36,"IEEE16_6":40,"posit16_1":32},
    {"it":103400,"IEEE32":31,"IEEE16_6":44,"posit16_1":29},
    {"it":103800,"IEEE32":33,"IEEE16_6":41,"posit16_1":34},
    {"it":104200,"IEEE32":29,"IEEE16_6":42,"posit16_1":30},
    {"it":104600,"IEEE32":32,"IEEE16_6":40,"posit16_1":28},
    {"it":105000,"IEEE32":30,"IEEE16_6":42,"posit16_1":32},
    {"it":105400,"IEEE32":33,"IEEE16_6":39,"posit16_1":29},
    {"it":105800,"IEEE32":28,"IEEE16_6":43,"posit16_1":33},
    {"it":106200,"IEEE32":31,"IEEE16_6":40,"posit16_1":27},
    {"it":106600,"IEEE32":29,"IEEE16_6":44,"posit16_1":30},
    {"it":107000,"IEEE32":28,"IEEE16_6":40,"posit16_1":33},
    {"it":107400,"IEEE32":31,"IEEE16_6":43,"posit16_1":27},
    {"it":107800,"IEEE32":27,"IEEE16_6":39,"posit16_1":29},
    {"it":108200,"IEEE32":29,"IEEE16_6":42,"posit16_1":32},
    {"it":108600,"IEEE32":27,"IEEE16_6":40,"posit16_1":26},
    {"it":109000,"IEEE32":30,"IEEE16_6":43,"posit16_1":28},
    {"it":109400,"IEEE32":26,"IEEE16_6":39,"posit16_1":31},
    {"it":109800,"IEEE32":28,"IEEE16_6":42,"posit16_1":25},
    {"it":110200,"IEEE32":27,"IEEE16_6":39,"posit16_1":29},
    {"it":110600,"IEEE32":25,"IEEE16_6":44,"posit16_1":26},
    {"it":111000,"IEEE32":28,"IEEE16_6":39,"posit16_1":30},
    {"it":111400,"IEEE32":25,"IEEE16_6":42,"posit16_1":24},
    {"it":111800,"IEEE32":26,"IEEE16_6":38,"posit16_1":28},
    {"it":112200,"IEEE32":24,"IEEE16_6":41,"posit16_1":22},
    {"it":112600,"IEEE32":27,"IEEE16_6":37,"posit16_1":26},
    {"it":113000,"IEEE32":24,"IEEE16_6":40,"posit16_1":24},
    {"it":113400,"IEEE32":22,"IEEE16_6":36,"posit16_1":27},
    {"it":113800,"IEEE32":25,"IEEE16_6":39,"posit16_1":21},
    {"it":114200,"IEEE32":23,"IEEE16_6":36,"posit16_1":25},
    {"it":114600,"IEEE32":25,"IEEE16_6":38,"posit16_1":22},
    {"it":115000,"IEEE32":21,"IEEE16_6":35,"posit16_1":24},
    {"it":115400,"IEEE32":23,"IEEE16_6":38,"posit16_1":20},
    {"it":115800,"IEEE32":21,"IEEE16_6":35,"posit16_1":23},
    {"it":116200,"IEEE32":23,"IEEE16_6":37,"posit16_1":21},
    {"it":116600,"IEEE32":20,"IEEE16_6":34,"posit16_1":24},
    {"it":117000,"IEEE32":24,"IEEE16_6":37,"posit16_1":19},
    {"it":117400,"IEEE32":22,"IEEE16_6":35,"posit16_1":22},
    {"it":117800,"IEEE32":21,"IEEE16_6":38,"posit16_1":20},
    {"it":118200,"IEEE32":23,"IEEE16_6":34,"posit16_1":23},
    {"it":118600,"IEEE32":20,"IEEE16_6":36,"posit16_1":18},
    {"it":119000,"IEEE32":22,"IEEE16_6":35,"posit16_1":22},
    {"it":119400,"IEEE32":20,"IEEE16_6":33,"posit16_1":18},
    {"it":119800,"IEEE32":19,"IEEE16_6":31,"posit16_1":21}
      ]},
      "transform": [{"fold": ["IEEE32", "IEEE16_6", "posit16_1"], "as": ["series", "loss"]}],
      "mark": {"type": "line", "strokeWidth": 1.7, "clip": true},
      "encoding": {
        "x": {
          "field": "it", "type": "quantitative",
          "scale": {"domain": [0, 120000], "nice": false, "zero": false},
          "axis": {
            "orient": "bottom", "ticks": false, "tickSize": 0,
            "values": [5000,10000,15000,20000,25000,30000,35000,40000,45000,50000,55000,60000,65000,70000,75000,80000,85000,90000,95000,100000,105000,110000,115000,120000],
            "format": "d",
            "labelAngle": 270, "labelAlign": "right", "labelBaseline": "middle",
            "labelFontSize": 16, "labelColor": "#222", "labelPadding": 20, "labelFlush": false, "labelOverlap": false,
            "title": "Iteration", "titleFontSize": 27, "titleFontWeight": "normal", "titleColor": "#222",
            "titleX": 557, "titleY": 118, "titleBaseline": "alphabetic", "titleAlign": "center"
          }
        },
        "y": {
          "field": "loss", "type": "quantitative",
          "scale": {"domain": [10, 100], "nice": false, "zero": false},
          "axis": {
            "orient": "left", "ticks": false, "tickSize": 0,
            "values": [10,20,30,40,50,60,70,80,90,100],
            "labelFontSize": 17, "labelColor": "#222", "labelPadding": 19, "labelFlush": false, "labelOverlap": false,
            "title": "Loss %", "titleFontSize": 27, "titleFontWeight": "normal", "titleColor": "#222",
            "titleAngle": 270, "titleX": -79, "titleY": 270, "titleBaseline": "alphabetic", "titleAlign": "center"
          }
        },
        "color": {
          "field": "series", "type": "nominal",
          "scale": {"domain": ["IEEE32", "IEEE16_6", "posit16_1"], "range": ["#000000", "#0a6cff", "#e63b05"]},
          "legend": {
            "orient": "none", "legendX": 1021, "legendY": 16, "title": null,
            "symbolType": "M-4,0H4", "symbolSize": 484, "symbolStrokeWidth": 1.8,
            "labelFontSize": 27, "labelColor": "#111", "labelAlign": "right", "labelOffset": -74, "labelLimit": 0,
            "rowPadding": 6, "padding": 0
          }
        }
      }
    },
    {
      "data": {"values": [{"it": 0, "loss": 10}, {"it": 120000, "loss": 100}]},
      "mark": {"type": "line", "strokeOpacity": 0},
      "encoding": {
        "x": {
          "field": "it", "type": "quantitative",
          "axis": {"orient": "top", "offset": -576, "tickSize": 13, "tickColor": "black", "zindex": 1, "labels": false, "title": null,
            "values": [5000,10000,15000,20000,25000,30000,35000,40000,45000,50000,55000,60000,65000,70000,75000,80000,85000,90000,95000,100000,105000,110000,115000]}
        },
        "y": {
          "field": "loss", "type": "quantitative",
          "axis": {"orient": "right", "offset": -1114, "tickSize": 13, "tickColor": "black", "zindex": 1, "labels": false, "title": null,
            "values": [20,30,40,50,60,70,80,90]}
        }
      }
    },
    {
      "data": {"values": [{"it": 0, "loss": 10}, {"it": 120000, "loss": 100}]},
      "mark": {"type": "line", "strokeOpacity": 0},
      "encoding": {
        "x": {
          "field": "it", "type": "quantitative",
          "axis": {"orient": "bottom", "offset": -576, "tickSize": 13, "tickColor": "black", "zindex": 1, "labels": false, "title": null,
            "values": [5000,10000,15000,20000,25000,30000,35000,40000,45000,50000,55000,60000,65000,70000,75000,80000,85000,90000,95000,100000,105000,110000,115000]}
        },
        "y": {
          "field": "loss", "type": "quantitative",
          "axis": {"orient": "left", "offset": -1114, "tickSize": 13, "tickColor": "black", "zindex": 1, "labels": false, "title": null,
            "values": [20,30,40,50,60,70,80,90]}
        }
      }
    }
  ],
  "resolve": {"axis": {"x": "independent", "y": "independent"}}
}
